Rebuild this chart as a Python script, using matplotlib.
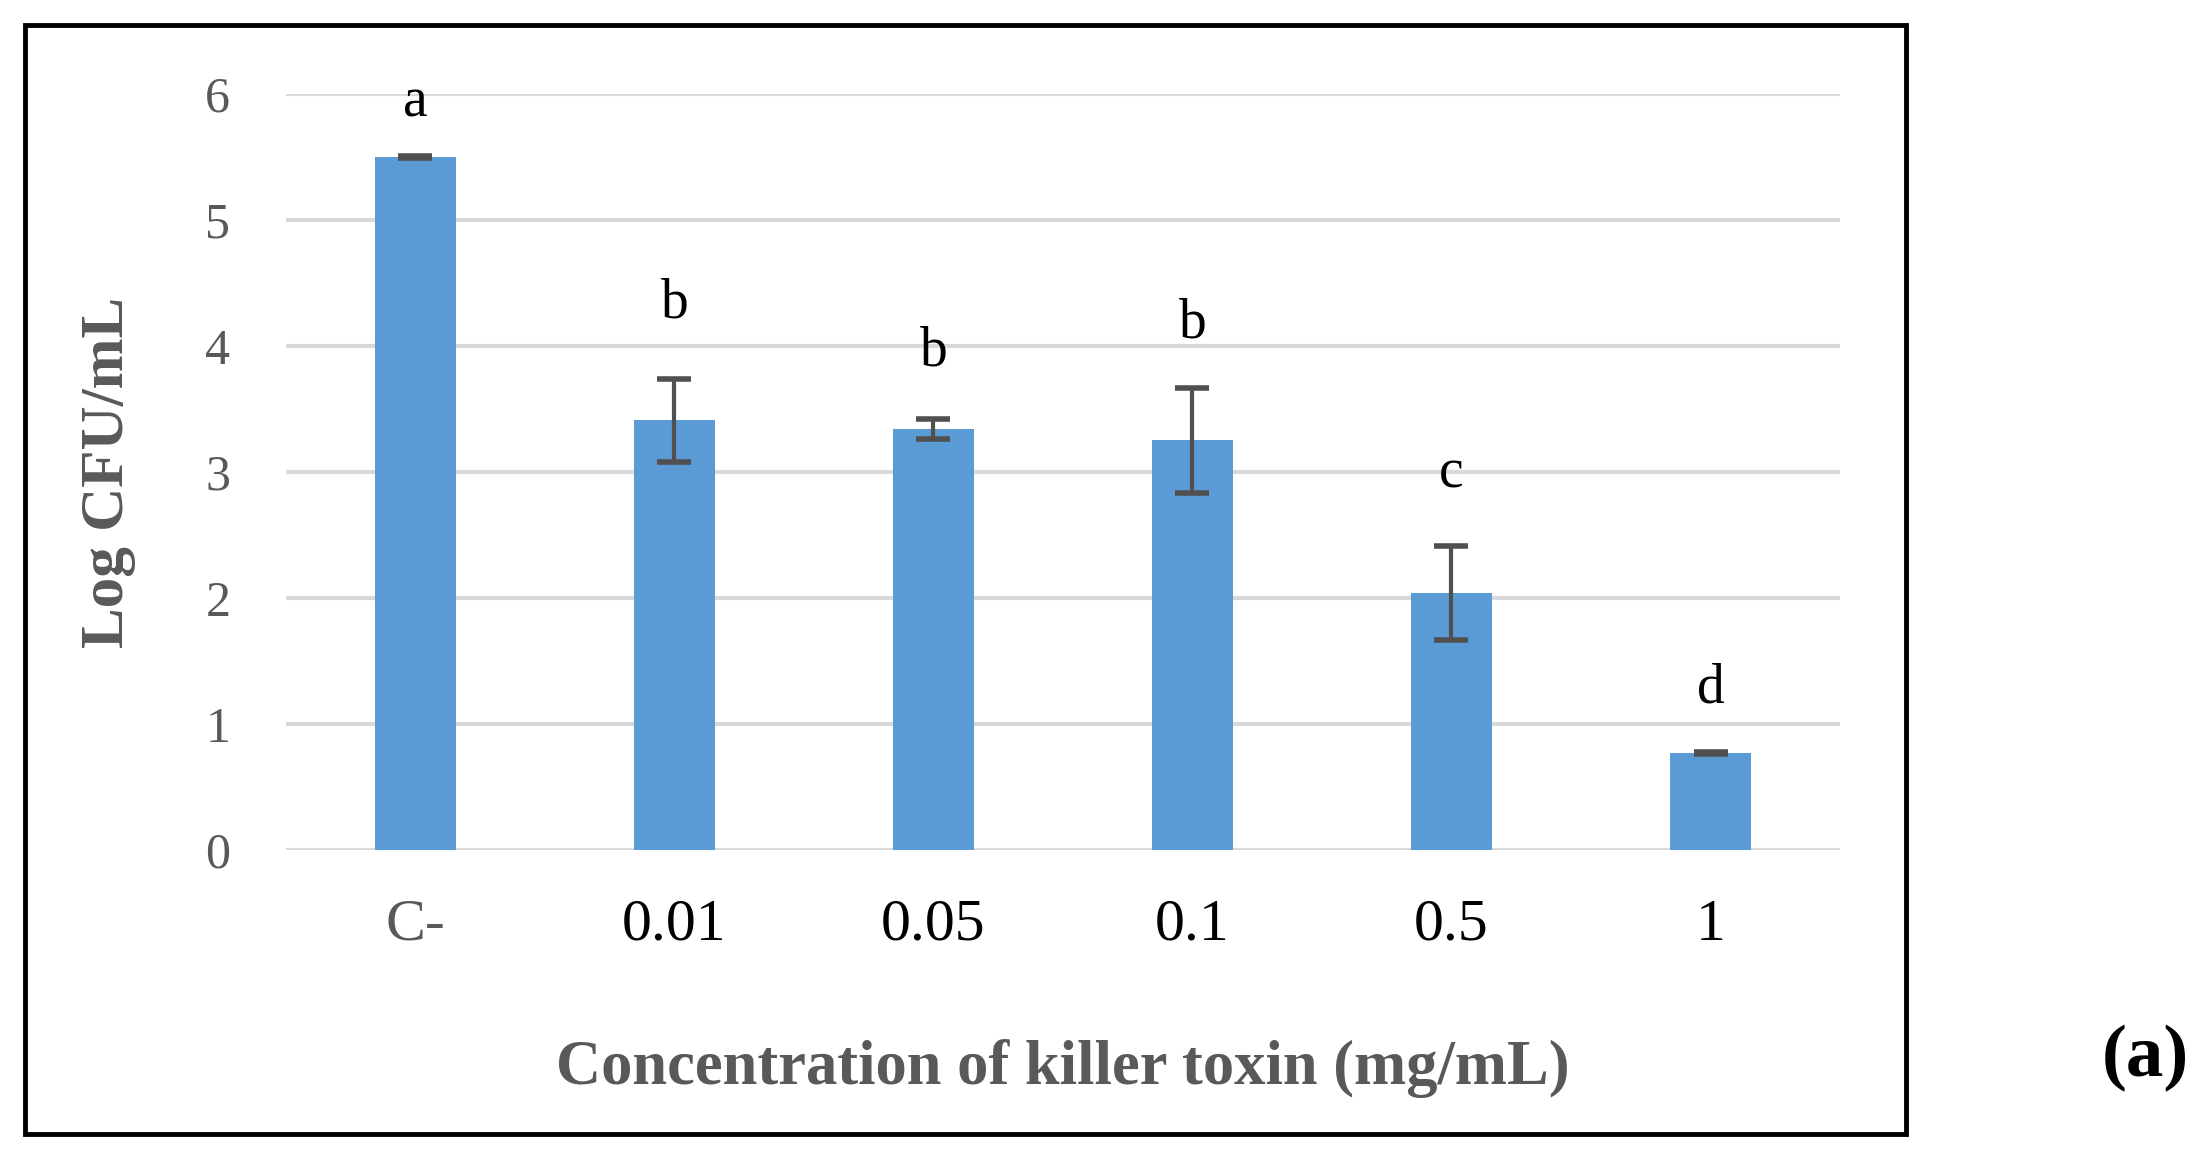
import matplotlib.pyplot as plt
from matplotlib.patches import Rectangle

categories = ["C-", "0.01", "0.05", "0.1", "0.5", "1"]
log_cfu = [5.50, 3.41, 3.34, 3.25, 2.04, 0.77]
sd = [0.01, 0.33, 0.08, 0.42, 0.37, 0.01]
letters = ["a", "b", "b", "b", "c", "d"]
letter_y = [5.93, 4.34, 3.96, 4.18, 2.99, 1.28]

plt.rcParams['font.family'] = ['Liberation Serif', 'DejaVu Serif']

fig = plt.figure(figsize=(22.06, 11.56), dpi=100)
ax = fig.add_axes([0.1296, 0.2647, 0.7045, 0.654])

x = list(range(len(categories)))
ax.bar(x, log_cfu, width=0.31, color="#5b9bd5", zorder=3)
ax.errorbar(x, log_cfu, yerr=sd, fmt="none", ecolor="#505050",
            elinewidth=3, capsize=12, capthick=4, zorder=4)

for xi, lab, ly in zip(x, letters, letter_y):
    ax.text(xi, ly, lab, ha="center", va="center", fontsize=40, color="black")

ax.set_xlim(-0.5, 5.5)
ax.set_ylim(0, 6)
ax.set_yticks(range(0, 7))
ax.yaxis.grid(True, color="#d9d9d9", linewidth=3, zorder=0)
ax.set_axisbelow(True)
for s in ax.spines.values():
    s.set_visible(False)
ax.tick_params(axis="both", length=0)
ax.tick_params(axis="y", labelsize=36, labelcolor="#595959", pad=40)
ax.tick_params(axis="x", labelsize=43, labelcolor="black", pad=35)
ax.set_xticks(x)
ax.set_xticklabels(categories)
ax.get_xticklabels()[0].set_color("#595959")

ax.set_ylabel("Log CFU/mL", fontsize=44, fontweight="bold", color="#595959", labelpad=50)
ax.set_xlabel("Concentration of killer toxin (mg/mL)", fontsize=45,
              fontweight="bold", color="#595959", labelpad=62)

# outer frame around the chart
fig.patches.append(Rectangle((25 / 2206, 1 - 1134 / 1156), (1906 - 25) / 2206,
                             (1134 - 25) / 1156, transform=fig.transFigure,
                             fill=False, edgecolor="black", linewidth=3.5))

fig.text(2145 / 2206, 1 - 1058 / 1156, "(a)", ha="center", va="center",
         fontsize=54, fontweight="bold", color="black")

fig.savefig("out.png", dpi=100)
